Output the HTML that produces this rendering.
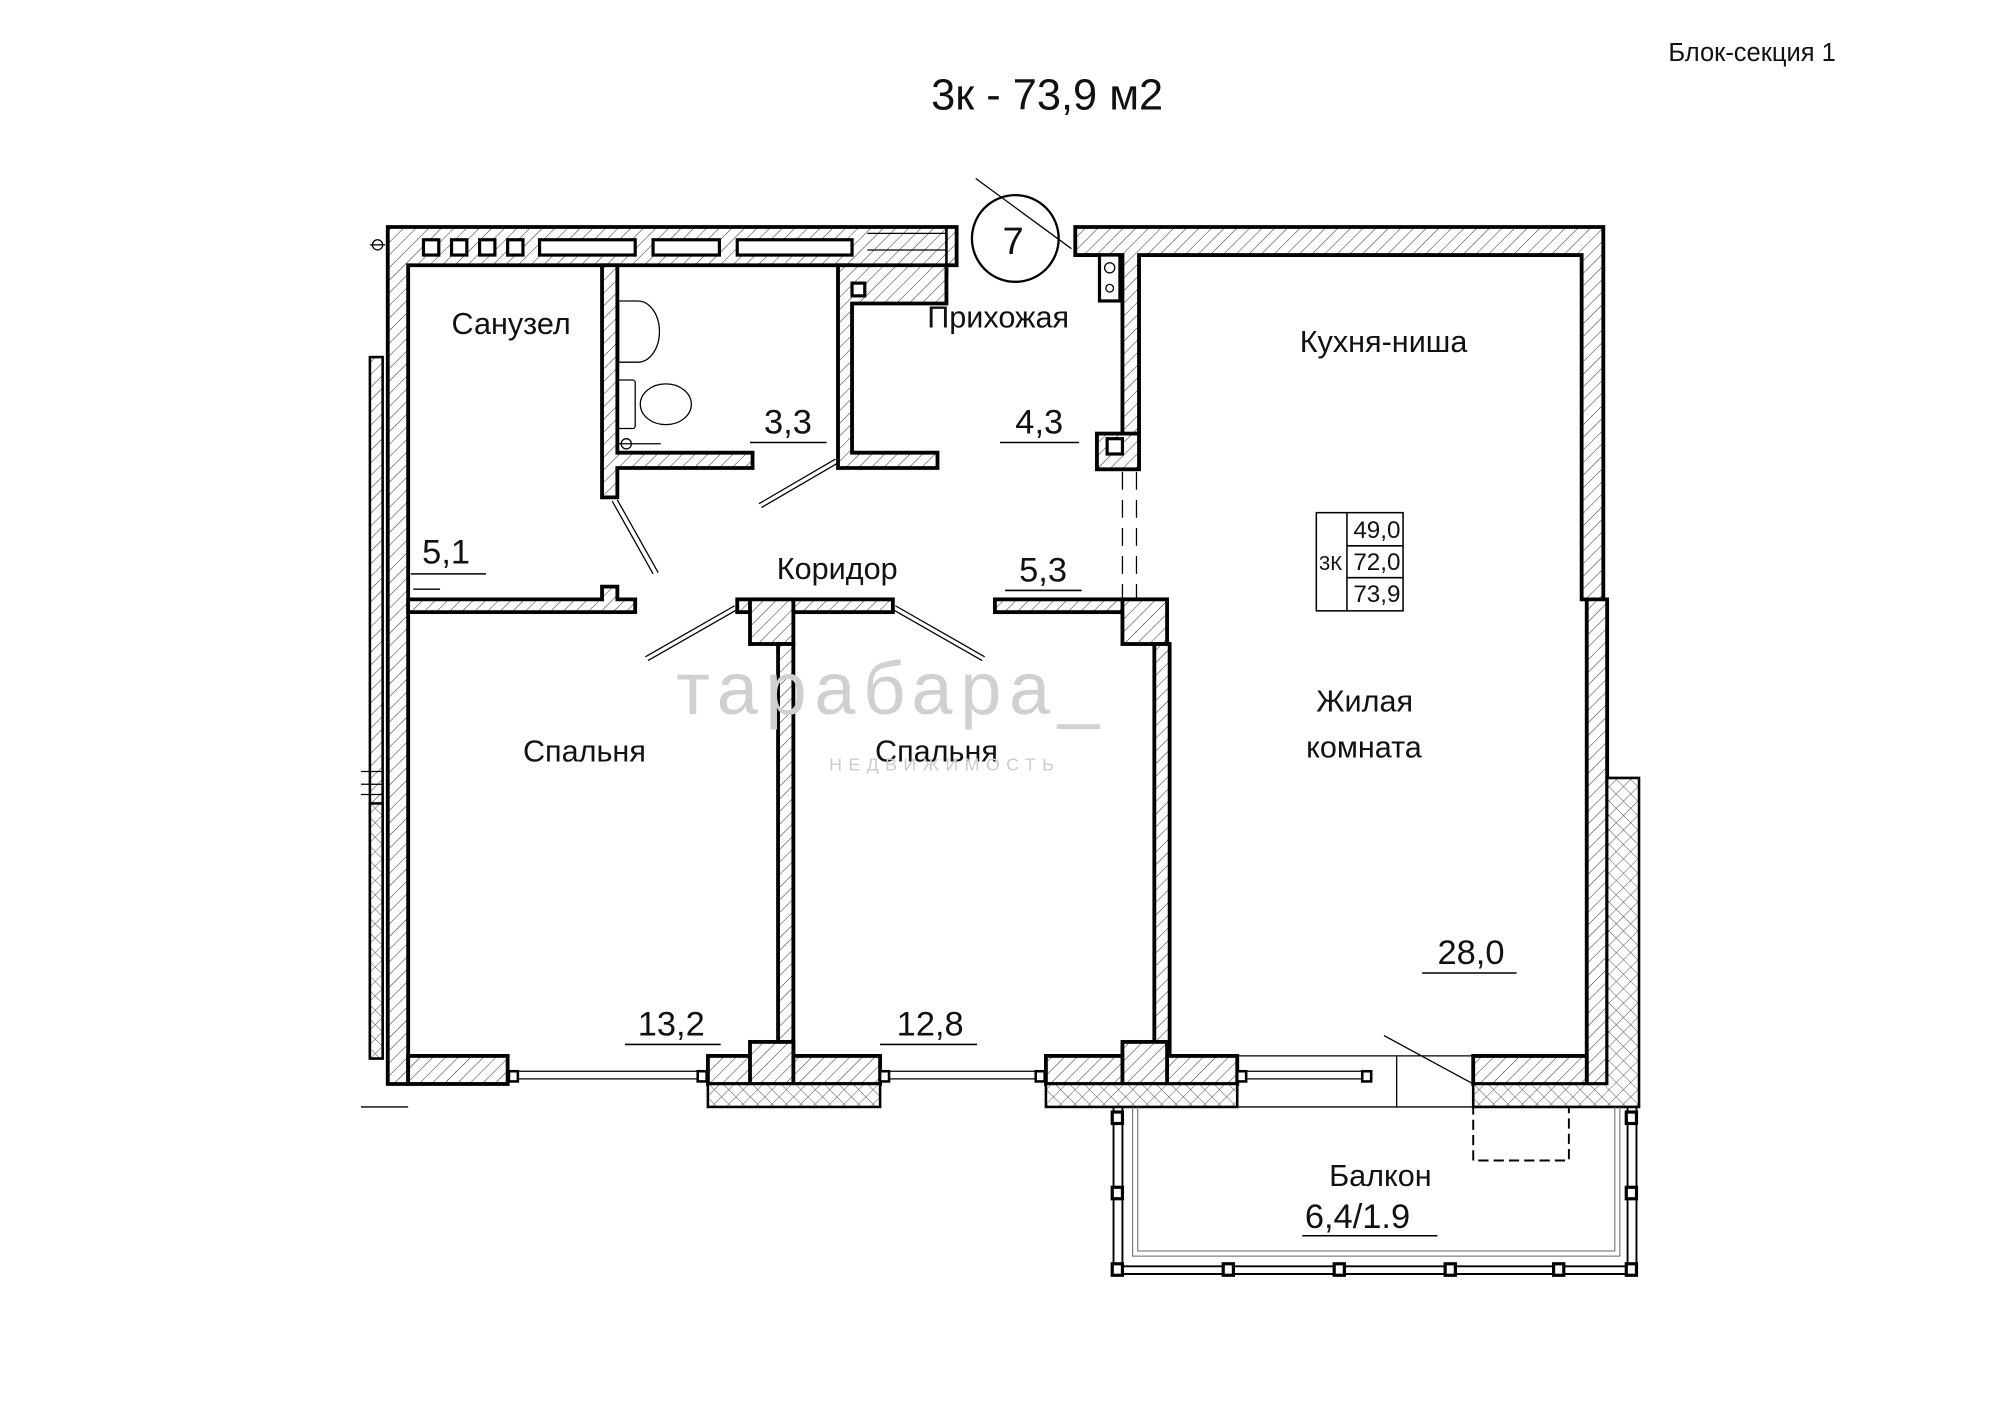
<!DOCTYPE html>
<html><head><meta charset="utf-8">
<style>html,body{margin:0;padding:0;background:#fff}svg{display:block}text{font-family:"Liberation Sans","DejaVu Sans",sans-serif;fill:#111}</style>
</head><body>
<svg width="2000" height="1413" viewBox="0 0 1568 1108" preserveAspectRatio="none" xmlns="http://www.w3.org/2000/svg">
<defs>
<pattern id="h" width="7" height="7" patternUnits="userSpaceOnUse" patternTransform="rotate(45)">
<rect width="7" height="7" fill="#fff"/><line x1="0" y1="0" x2="0" y2="7" stroke="#333" stroke-width="0.8"/></pattern>
<pattern id="x" width="8" height="8" patternUnits="userSpaceOnUse" patternTransform="rotate(45)">
<rect width="8" height="8" fill="#fff"/><line x1="0" y1="0" x2="0" y2="8" stroke="#444" stroke-width="0.7"/><line x1="0" y1="0" x2="8" y2="0" stroke="#444" stroke-width="0.7"/></pattern>
</defs>
<rect width="1568" height="1108" fill="#fff"/>
<text x="1308" y="48" font-size="20">Блок-секция 1</text>
<text x="730" y="86" font-size="34">3к - 73,9 м2</text>

<g stroke="#000" stroke-width="3" fill="url(#h)">
<!-- top-left wall -->
<path d="M304 178 H750 V208 H742 V215 H668 V208 H320 V850 H304 Z"/>
<path d="M742 178 V215 H735 V238 H668 V365 H657 V215 H668 V208 H742" fill="none" stroke-width="2"/>
<!-- Prikhozhaya left wall + bottom -->
<path d="M657 208 H742 V238 H668 V355 H735 V367 H657 Z"/>
<!-- top-right wall and right wall -->
<path d="M843 178 H1257 V470 H1240 V200 H893 V345 H880 V200 H843 Z"/>
<path d="M1244 470 H1260 V850 H1244 Z"/>
<!-- left column bits -->
<rect x="860" y="340" width="33" height="28"/>
<!-- bath divider -->
<path d="M472 208 H484 V355 H590 V367 H484 V390 H472 Z"/>
<!-- corridor walls -->
<path d="M320 470 H472 V460 H484 V470 H498 V480 H320 Z"/>
<rect x="578" y="470" width="122" height="10"/>
<rect x="780" y="470" width="135" height="10"/>
<rect x="588" y="470" width="34" height="35"/>
<rect x="880" y="470" width="35" height="35"/>
<rect x="610" y="505" width="12" height="323"/>
<rect x="905" y="505" width="12" height="323"/>
<!-- bottom walls -->
<rect x="320" y="828" width="78" height="22"/>
<rect x="555" y="828" width="135" height="22"/>
<rect x="588" y="817" width="34" height="33"/>
<rect x="820" y="828" width="150" height="22"/>
<rect x="880" y="817" width="35" height="33"/>
<path d="M1155 828 H1244 V850 H1155 Z"/>
</g>
<g stroke="#000" stroke-width="2" fill="url(#x)">
<rect x="555" y="850" width="135" height="18"/>
<rect x="820" y="850" width="150" height="18"/>
<path d="M1155 850 H1260 V610 H1285 V868 H1155 Z"/>
<rect x="290" y="280" width="10" height="550" fill="url(#h)"/>
<rect x="290" y="630" width="10" height="200"/>
</g>
<!-- vents -->
<g stroke="#000" stroke-width="2.5" fill="#fff">
<rect x="332" y="188" width="12" height="12"/><rect x="354" y="188" width="12" height="12"/><rect x="376" y="188" width="12" height="12"/><rect x="398" y="188" width="12" height="12"/>
<rect x="423" y="188" width="75" height="12"/><rect x="512" y="188" width="52" height="12"/><rect x="578" y="188" width="90" height="12"/>
<rect x="668" y="222" width="10" height="10"/><rect x="868" y="344" width="12" height="12"/>
<rect x="862" y="200" width="16" height="36"/>
</g>
<!-- windows -->
<g stroke="#000" stroke-width="1">
<line x1="398" y1="840" x2="555" y2="840"/><line x1="398" y1="846" x2="555" y2="846"/>
<line x1="690" y1="840" x2="820" y2="840"/><line x1="690" y1="846" x2="820" y2="846"/>
<line x1="970" y1="840" x2="1075" y2="840"/><line x1="970" y1="846" x2="1075" y2="846"/>
<line x1="970" y1="828" x2="1155" y2="828"/><line x1="970" y1="868" x2="1155" y2="868"/>
<line x1="1095" y1="828" x2="1095" y2="868"/>
<line x1="1085" y1="812" x2="1155" y2="850"/>
<line x1="680" y1="183" x2="742" y2="183"/><line x1="680" y1="196" x2="742" y2="196"/>
<line x1="283" y1="605" x2="300" y2="605"/><line x1="283" y1="615" x2="300" y2="615"/><line x1="283" y1="623" x2="300" y2="623"/>
<line x1="283" y1="868" x2="320" y2="868"/>
</g>
<g fill="#fff" stroke="#000" stroke-width="2">
<rect x="399" y="840" width="7" height="8"/><rect x="547" y="840" width="7" height="8"/><rect x="690" y="840" width="7" height="8"/><rect x="812" y="840" width="7" height="8"/><rect x="970" y="840" width="7" height="8"/><rect x="1068" y="840" width="7" height="8"/>
</g>
<!-- balcony -->
<g fill="none" stroke="#000">
<rect x="870" y="868" width="415" height="130" stroke-width="0"/>
<line x1="873" y1="868" x2="873" y2="998" stroke-width="1.5"/><line x1="880" y1="868" x2="880" y2="998" stroke-width="1.5"/>
<line x1="1276" y1="868" x2="1276" y2="998" stroke-width="1.5"/><line x1="1283" y1="868" x2="1283" y2="998" stroke-width="1.5"/>
<line x1="873" y1="993" x2="1283" y2="993" stroke-width="1.5"/><line x1="873" y1="999" x2="1283" y2="999" stroke-width="1.5"/>
<path d="M888 868 V985 H1270 V868" stroke-width="0.8" stroke="#666"/>
<path d="M892 868 V981 H1266 V868" stroke-width="0.8" stroke="#666"/>
<rect x="1155" y="868" width="75" height="42" stroke-dasharray="8 4" stroke-width="1.5"/>
</g>
<g fill="#fff" stroke="#000" stroke-width="2.5">
<rect x="872" y="872" width="8" height="9"/><rect x="872" y="931" width="8" height="9"/><rect x="872" y="991" width="8" height="9"/>
<rect x="1275" y="872" width="8" height="9"/><rect x="1275" y="931" width="8" height="9"/><rect x="1275" y="991" width="8" height="9"/>
<rect x="959" y="991" width="8" height="9"/><rect x="1046" y="991" width="8" height="9"/><rect x="1133" y="991" width="8" height="9"/><rect x="1218" y="991" width="8" height="9"/>
</g>
<!-- doors -->
<g stroke="#000" stroke-width="1" fill="none">
<path d="M484 392 L516 449 M480 393 L512 450"/>
<path d="M657 363 L597 398 M655 360 L595 395"/>
<path d="M578 478 L508 518 M576 475 L506 515"/>
<path d="M700 478 L770 518 M702 475 L772 515"/>
<line x1="880" y1="370" x2="880" y2="470" stroke-dasharray="14 8"/><line x1="891" y1="370" x2="891" y2="470" stroke-dasharray="14 8"/>
<line x1="765" y1="140" x2="840" y2="195"/>
<circle cx="796" cy="187" r="34" stroke-width="1.8"/>
</g>
<text x="786" y="199" font-size="30">7</text>
<!-- fixtures -->
<g stroke="#000" stroke-width="1" fill="none">
<path d="M485 236 H500 A17 24 0 0 1 500 284 H485 Z"/>
<rect x="484" y="298" width="14" height="38" rx="2"/><ellipse cx="522" cy="317" rx="20" ry="16"/>
<circle cx="491" cy="348" r="4"/><line x1="485" y1="348" x2="518" y2="348"/>
<line x1="324" y1="462" x2="345" y2="462"/>
<circle cx="296" cy="192" r="4"/><line x1="290" y1="192" x2="302" y2="192"/>
<circle cx="870" cy="210" r="4"/><circle cx="870" cy="226" r="3"/>
</g>
<!-- explication table -->
<g stroke="#000" stroke-width="1.2" fill="none">
<rect x="1032" y="402" width="68" height="77"/><line x1="1056" y1="402" x2="1056" y2="479"/>
<line x1="1056" y1="428" x2="1100" y2="428"/><line x1="1056" y1="453" x2="1100" y2="453"/>
</g>
<g font-size="19">
<text x="1061" y="422">49,0</text><text x="1061" y="447">72,0</text><text x="1061" y="472">73,9</text>
<text x="1034" y="447" font-size="16">3К</text>
</g>
<!-- labels -->
<g font-size="24">
<text x="354" y="262">Санузел</text>
<text x="727" y="257">Прихожая</text>
<text x="1019" y="276">Кухня-ниша</text>
<text x="609" y="454">Коридор</text>
<text x="1032" y="558">Жилая</text>
<text x="1024" y="594">комната</text>
<text x="410" y="597">Спальня</text>
<text x="686" y="597">Спальня</text>
<text x="1042" y="930">Балкон</text>
</g>
<g font-size="27">
<text x="599" y="340">3,3</text><text x="796" y="340">4,3</text>
<text x="331" y="442">5,1</text><text x="799" y="456">5,3</text>
<text x="500" y="812">13,2</text><text x="703" y="812">12,8</text>
<text x="1127" y="756">28,0</text><text x="1023" y="963">6,4/1.9</text>
</g>
<g stroke="#000" stroke-width="1.2">
<line x1="588" y1="347" x2="648" y2="347"/><line x1="784" y1="347" x2="846" y2="347"/>
<line x1="322" y1="450" x2="381" y2="450"/><line x1="788" y1="463" x2="848" y2="463"/>
<line x1="490" y1="819" x2="565" y2="819"/><line x1="690" y1="819" x2="766" y2="819"/>
<line x1="1115" y1="763" x2="1189" y2="763"/><line x1="1021" y1="969" x2="1127" y2="969"/>
</g>
<!-- watermark -->
<text x="530" y="560" font-size="58" fill="#ccc" style="fill:#d0d0d0" letter-spacing="6">тарабара_</text>
<text x="650" y="604" font-size="14" style="fill:#ccc" letter-spacing="5">НЕДВИЖИМОСТЬ</text>
</svg>
</body></html>
